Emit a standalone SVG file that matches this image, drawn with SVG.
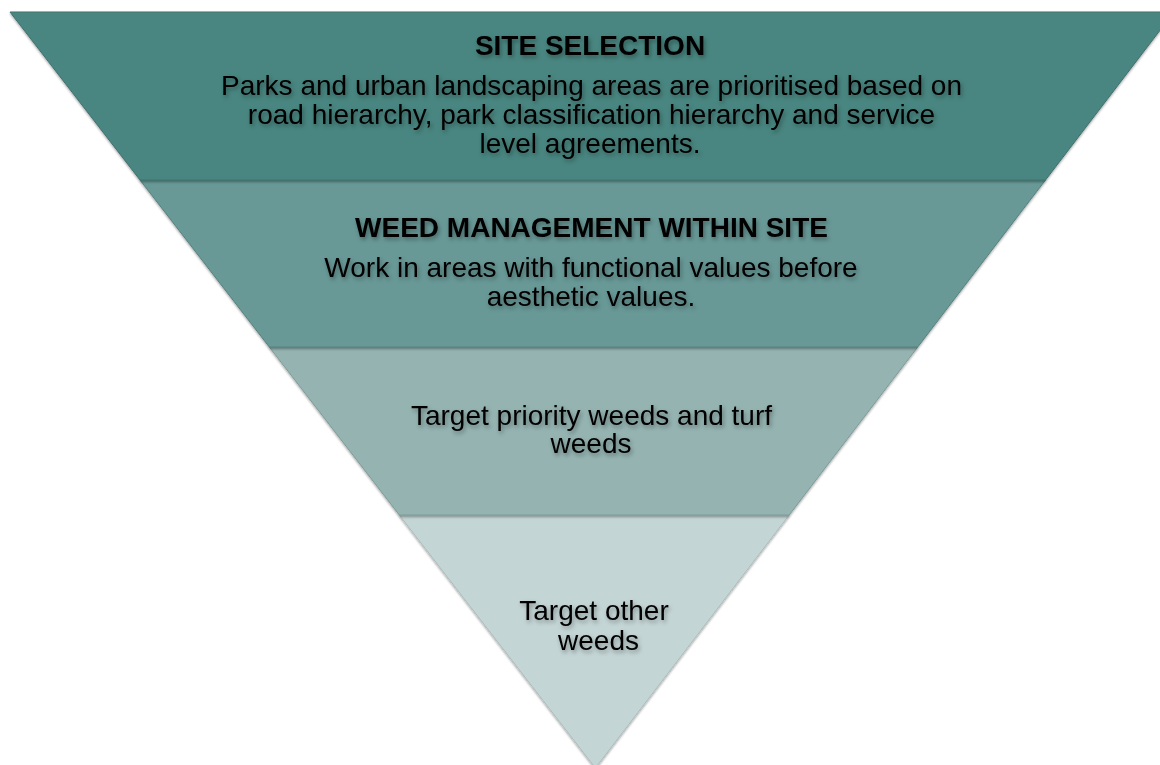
<svg xmlns="http://www.w3.org/2000/svg" width="1160" height="765" viewBox="0 0 1160 765">
<defs>
<filter id="sh" x="-10%" y="-10%" width="120%" height="130%">
<feDropShadow dx="0" dy="1.5" stdDeviation="1.2" flood-color="#000" flood-opacity="0.35"/>
</filter>
<filter id="ts" x="-5%" y="-30%" width="110%" height="160%">
<feDropShadow dx="1.5" dy="2.5" stdDeviation="2" flood-color="#000" flood-opacity="0.35"/>
</filter>
</defs>
<style>
.band{stroke-width:1;filter:url(#sh)}
.t{font-family:"Liberation Sans",Arial,sans-serif;font-size:28px;fill:#000;text-anchor:middle;filter:url(#ts)}
.b{font-weight:bold}
</style>
<rect width="1160" height="765" fill="#fff"/>
<g id="band4">
<polygon class="band" points="399.3,515 789.2,515 595.4,768" fill="#c4d5d5" stroke="#a9bdbc"/>
<text class="t" x="594" y="620">Target other</text>
<text class="t" x="598.5" y="650">weeds</text>
</g>
<g id="band3">
<polygon class="band" points="269.3,347 917.7,347 789.2,515 399.3,515" fill="#94b3b1" stroke="#7c9b99"/>
<text class="t" x="591.5" y="425">Target priority weeds and turf</text>
<text class="t" x="591" y="453">weeds</text>
</g>
<g id="band2">
<polygon class="band" points="140,180 1045.5,180 917.7,347 269.3,347" fill="#689997" stroke="#55817e"/>
<text class="t b" x="591.5" y="237">WEED MANAGEMENT WITHIN SITE</text>
<text class="t" x="591" y="277">Work in areas with functional values before</text>
<text class="t" x="591" y="306">aesthetic values.</text>
</g>
<g id="band1">
<polygon class="band" points="10,12 1174,12 1045.5,180 140,180" fill="#4a8681" stroke="#3f706c"/>
<text class="t b" x="590" y="55">SITE SELECTION</text>
<text class="t" x="591.5" y="95">Parks and urban landscaping areas are prioritised based on</text>
<text class="t" x="591.5" y="124">road hierarchy, park classification hierarchy and service</text>
<text class="t" x="590" y="153">level agreements.</text>
</g>
<g id="connectors"></g>
</svg>
